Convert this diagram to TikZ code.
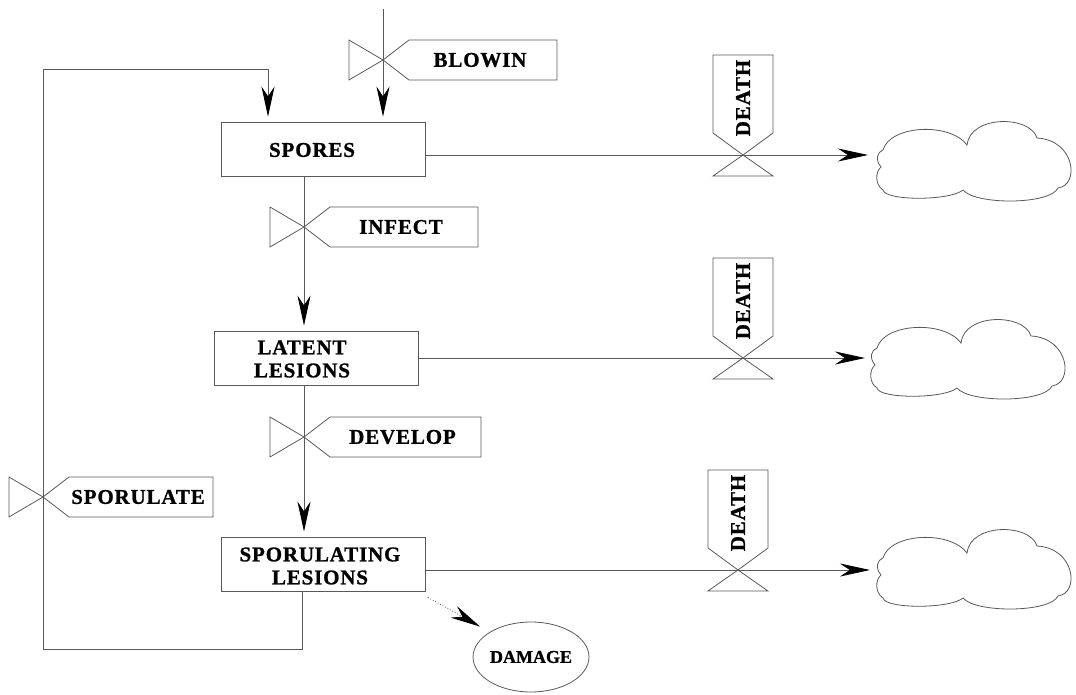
\documentclass[tikz,border=0pt]{standalone}
\usepackage{fontspec}
\setmainfont{Liberation Serif}[BoldFeatures={FakeBold=1}]
\newfontfamily\labfont{Liberation Serif}[LetterSpace=4, BoldFeatures={FakeBold=1}]
\usetikzlibrary{arrows.meta,shapes.geometric}
\tikzset{
  vl/.style={draw=black!65, line width=0.8pt, line join=miter},
  tip/.style={-{Stealth[length=30pt,width=13pt,black]}},
  flow/.style={vl, tip},
  stock/.style={vl, rectangle, minimum width=204pt, minimum height=54pt, inner sep=0pt},
  lbl/.style={font=\labfont\bfseries\fontsize{21}{23}\selectfont, inner sep=0pt, text=black},
  cloudpic/.pic={
    \draw[vl] (3,-10) .. controls (10,-35) and (70,-38) .. (87,-15)
      .. controls (90,-45) and (150,-45) .. (157,-22)
      .. controls (195,-20) and (200,25) .. (178,28)
      .. controls (170,45) and (95,45) .. (83,30)
      .. controls (70,41) and (5,41) .. (3,30)
      .. controls (-5,25) and (-5,12) .. (1,7)
      .. controls (-5,0) and (-3,-8) .. (3,-10) -- cycle;
  }
}
% horizontal valve: name, x, y, right end of label, text
\newcommand\hvalve[5]{%
  \coordinate (#1) at (#2,#3);
  \draw[vl] (#1) -- ++(-34,-20) -- ++(0,40) -- cycle;
  \draw[vl] (#1) -- ++(26,-20) -- ++({#4-#2-26},0) -- ++(0,40) -- ++({-(#4-#2-26)},0) -- cycle;
  \node[lbl] (#1-t) at ({(#2+26+#4)/2-3},#3) {#5};
}
% vertical death valve: name, x, y
\newcommand\dvalve[3]{%
  \coordinate (#1) at (#2,#3);
  \draw[vl] (#1) -- ++(-30,21) -- ++(60,0) -- cycle;
  \draw[vl] (#1) -- ++(-30,-22) -- ++(0,-78) -- ++(60,0) -- ++(0,78) -- cycle;
  \node[lbl, rotate=90] (#1-t) at (#2,{#3-57}) {DEATH};
}
\begin{document}
\begin{tikzpicture}[x=1pt, y=-1pt]
\useasboundingbox (0,0) rectangle (1076,695);

% stocks
\node[stock] (spores) at (323.5,149) {};
\node[lbl] (spores-t) at (312,150) {SPORES};
\node[stock] (latent) at (316.5,358) {};
\node[lbl, align=center] (latent-t) at (302,359) {LATENT\\LESIONS};
\node[stock] (sporul) at (323.5,564) {};
\node[lbl, align=center] (sporul-t) at (320,566) {SPORULATING\\LESIONS};

\node[vl, ellipse, minimum width=104pt, minimum height=70pt, inner sep=0pt,
      font=\bfseries\fontsize{18}{20}\selectfont] (damage) at (531,657) {DAMAGE};

% clouds
\coordinate (c1) at (880,160);
\coordinate (c2) at (874,358);
\coordinate (c3) at (880,568);
\pic at (c1) {cloudpic};
\pic at (c2) {cloudpic};
\pic at (c3) {cloudpic};

% flows
\coordinate (bsrc) at (383,9);
\draw[flow, shorten >=5pt] (bsrc) -- (spores.north -| bsrc);
\coordinate (vinf) at (304,227);
\coordinate (vdev) at (304,437);
\draw[flow, shorten >=5pt] (spores.south -| vinf) -- (latent.north -| vinf);
\draw[flow, shorten >=5pt] (latent.south -| vdev) -- (sporul.north -| vdev);

\coordinate (lp1) at (302,649);
\coordinate (lp2) at (43,649);
\coordinate (lp3) at (43,69);
\coordinate (lp4) at (268,69);
\draw[flow, shorten >=5pt] (sporul.south -| lp1) -- (lp1) -- (lp2) -- (lp3) -- (lp4) -- (spores.north -| lp4);

\coordinate (d1) at (743,155);
\coordinate (d2) at (743,358);
\coordinate (d3) at (738,570);
\draw[flow, shorten >=12pt] (d1 -| spores.east) -- (d1 -| c1);
\draw[flow, shorten >=9pt] (d2 -| latent.east) -- (d2 -| c2);
\draw[flow, shorten >=10pt] (d3 -| sporul.east) -- (d3 -| c3);

\draw[vl, dotted, tip, shorten >=11pt]
  ([shift={(2,6)}]sporul.south east) -- (damage.north west);

% valves
\hvalve{vblow}{383}{60}{557}{BLOWIN}
\hvalve{vinfv}{304}{227}{478}{INFECT}
\hvalve{vdevv}{304}{437}{481}{DEVELOP}
\hvalve{vspor}{43}{497}{213}{SPORULATE}
\dvalve{dv1}{743}{155}
\dvalve{dv2}{743}{358}
\dvalve{dv3}{738}{570}
\end{tikzpicture}
\end{document}
